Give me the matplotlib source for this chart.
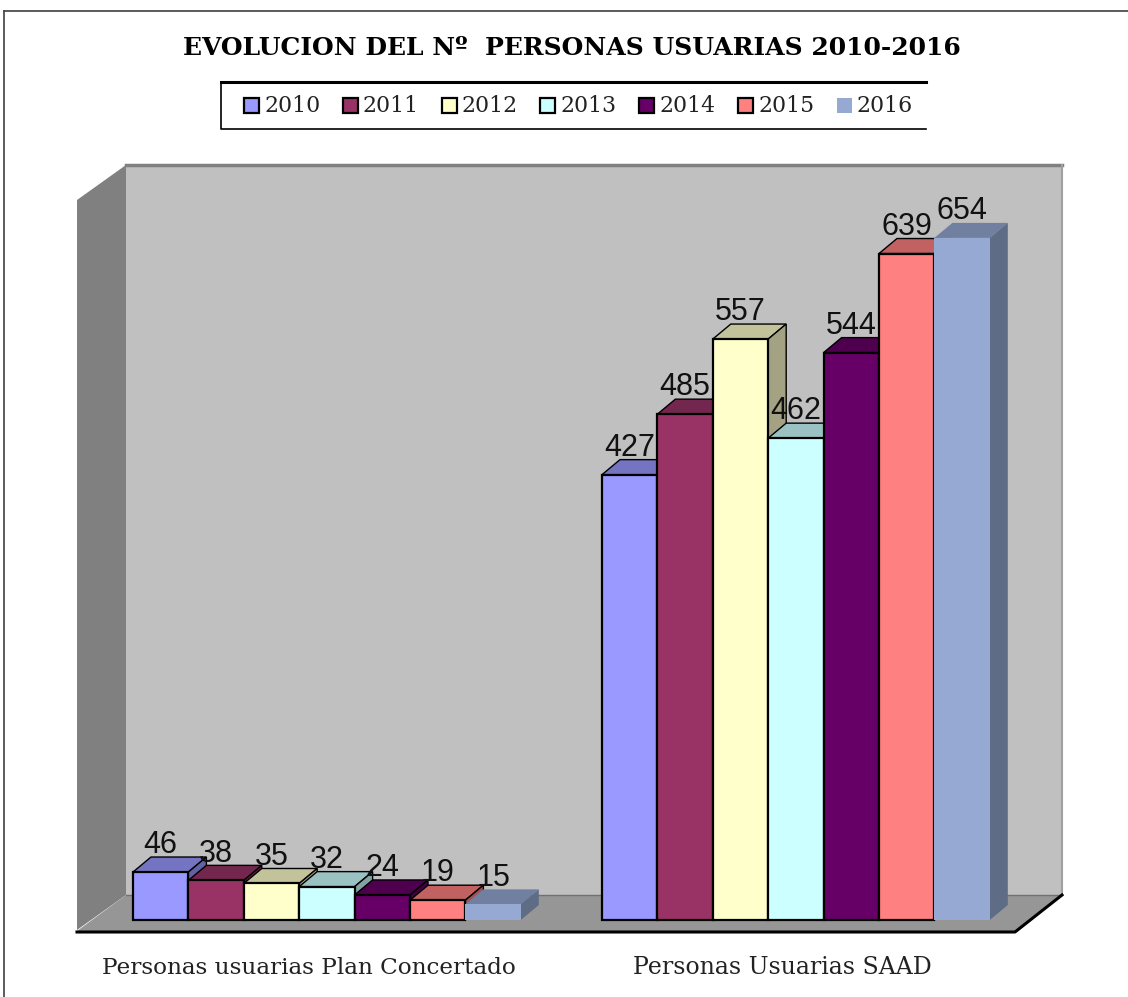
import matplotlib
matplotlib.use('Agg')
from matplotlib import pyplot as plt
from matplotlib.patches import Polygon, Rectangle
import numpy as np

titulo = 'EVOLUCION DEL Nº  PERSONAS USUARIAS 2010-2016'
agnos = ['2010', '2011', '2012', '2013', '2014', '2015', '2016']
categorias = ['Personas usuarias Plan Concertado', 'Personas Usuarias SAAD']
plan_concertado = [46, 38, 35, 32, 24, 19, 15]
saad = [427, 485, 557, 462, 544, 639, 654]

colores = ['#9999FF', '#993366', '#FFFFCC', '#CCFFFF', '#660066', '#FF8080', '#95A9D2']
bordes = ['black', 'black', 'black', 'black', 'black', 'black', 'none']

px_base = 920
px_por_unidad = 1.043
ancho_barra = 55.4
dx = 18
dy = 15 / px_por_unidad
inicio_grupos = [133, 602]


def oscurecer(color, factor):
    rgb = np.array(matplotlib.colors.to_rgb(color))
    return tuple(rgb * factor)


fig = plt.figure(figsize=(11.28, 9.97), dpi=100)

# fondo en pixeles: marco, paredes, titulo y leyenda
fondo = fig.add_axes([0, 0, 1, 1])
fondo.set_xlim(0, 1128)
fondo.set_ylim(997, 0)
fondo.axis('off')

fondo.plot([4, 1128], [11, 11], color='#404040', lw=1.2)
fondo.plot([4, 4], [11, 997], color='#404040', lw=1.2)

fondo.add_patch(Polygon([(126, 165), (1062, 165), (1062, 895), (126, 895)], fc='#C0C0C0', ec='none'))
fondo.plot([126, 1062], [165, 165], color='#808080', lw=2.5)
fondo.plot([1062, 1062], [165, 895], color='#A0A0A0', lw=1.5)
fondo.add_patch(Polygon([(77, 200), (126, 165), (126, 895), (77, 930)], fc='#808080', ec='none'))
fondo.add_patch(Polygon([(77, 931), (126, 895), (1062, 895), (1015, 931)], fc='#969696', ec='none'))
fondo.plot([126, 1062], [895, 895], color='#707070', lw=1)
fondo.plot([77, 1015, 1062], [932, 932, 895], color='black', lw=2.2)

fondo.text(571.5, 48, titulo, ha='center', va='center', family='DejaVu Serif',
           weight='bold', fontsize=18, color='black')

fondo.plot([926, 221, 221, 926], [82, 82, 129, 129], color='black', lw=1.2)
fondo.plot([221, 926], [82, 82], color='black', lw=2.2)
for i in range(len(agnos)):
    x_leyenda = 244 + i * 98.8
    fondo.add_patch(Rectangle((x_leyenda, 98.5), 15, 15, fc=colores[i], ec=bordes[i], lw=1.6))
    fondo.text(x_leyenda + 20, 106, agnos[i], ha='left', va='center', family='DejaVu Serif',
               fontsize=15.8, weight='light', color='#222222')

fondo.text(308.5, 968, categorias[0], ha='center', va='center', family='DejaVu Serif',
           fontsize=16.7, color='#222222')
fondo.text(782.5, 967, categorias[1], ha='center', va='center', family='DejaVu Serif',
           fontsize=17, color='#222222')

# barras con escala de valores
ax = fig.add_axes([0, 0, 1, 1], facecolor='none')
ax.set_xlim(0, 1128)
ax.set_ylim((px_base - 997) / px_por_unidad, px_base / px_por_unidad)
ax.axis('off')

orden = 10
for inicio, valores in zip(inicio_grupos, [plan_concertado, saad]):
    for i, v in enumerate(valores):
        x0 = inicio + i * ancho_barra
        x1 = x0 + ancho_barra
        ec = bordes[i]
        ax.add_patch(Polygon([(x0, v), (x0 + dx, v + dy), (x1 + dx, v + dy), (x1, v)],
                             fc=oscurecer(colores[i], 0.76), ec=ec, lw=1, zorder=orden))
        ax.add_patch(Polygon([(x1, 0), (x1 + dx, dy), (x1 + dx, v + dy), (x1, v)],
                             fc=oscurecer(colores[i], 0.64), ec=ec, lw=1, zorder=orden))
        ax.bar(x0, v, width=ancho_barra, align='edge', color=colores[i], edgecolor=ec,
               linewidth=1.6, zorder=orden + 1)
        ax.text(x0 + ancho_barra / 2, v + 18, str(v), ha='center', va='baseline',
                family='Liberation Sans', fontsize=22, color='#111111', zorder=100)
        orden += 2

fig.savefig('out.png', dpi=100, facecolor='white')
